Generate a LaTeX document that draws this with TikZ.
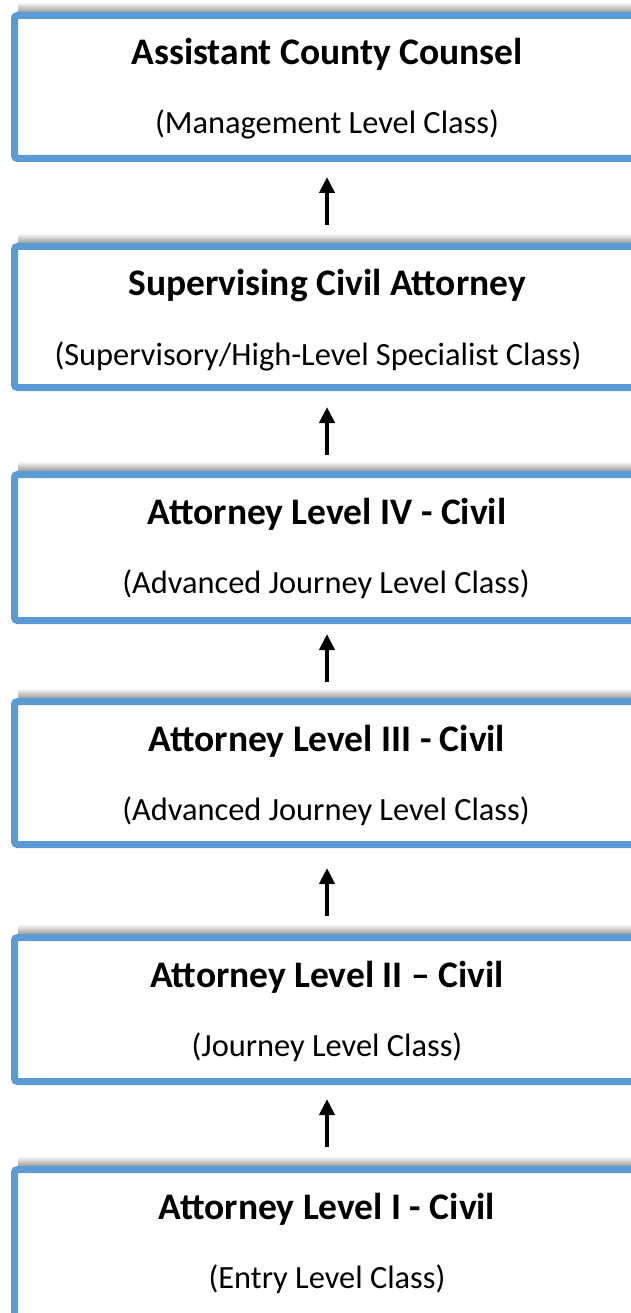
\documentclass[tikz,border=0pt]{standalone}
\usepackage{fontspec}
\setmainfont{Carlito}
\usetikzlibrary{arrows.meta}
\definecolor{accent}{HTML}{5B9BD5}
\tikzset{
  boxframe/.style={draw=accent, line width=7pt, fill=white, rounded corners=3pt,
    rectangle, inner sep=0pt, anchor=north west, minimum width=640pt},
  shadowband/.style={top color=white, bottom color=black!50},
  titletext/.style={font=\fontsize{37.5}{42}\selectfont\bfseries, anchor=base, inner sep=0pt},
  subtext/.style={font=\fontsize{32.4}{37}\selectfont, anchor=base, inner sep=0pt},
  uparrow/.style={line width=4pt, -{Triangle[width=15pt,length=16pt]}},
}
% #1 name, #2 outer top, #3 outer bottom, #4 title, #5 subtitle, #6 subtitle x
\newcommand\rungbox[6]{%
  \shade[shadowband] (18,#2-10) rectangle (640,#2+3);
  \pgfmathsetmacro\rungh{#3-#2-7}
  \node[boxframe, minimum height=\rungh pt] (b#1) at (11,#2) {};
  \node[titletext] (t#1) at (327,#2+53) {#4};
  \node[subtext] (s#1) at (#6,#2+122) {#5};
}
\begin{document}
\begin{tikzpicture}[x=1pt,y=-1pt]
\useasboundingbox (0,0) rectangle (631,1313);
\clip (0,0) rectangle (631,1313);
\fill[white] (0,0) rectangle (631,1313);
\rungbox{1}{12}{162}{Assistant County Counsel}{(Management Level Class)}{327}
\rungbox{2}{243}{391}{Supervising Civil Attorney}{(Supervisory/High-Level Specialist Class)}{318}
\rungbox{3}{471}{624}{Attorney Level IV - Civil}{(Advanced Journey Level Class)}{326}
\rungbox{4}{698}{848}{Attorney Level III - Civil}{(Advanced Journey Level Class)}{326}
\rungbox{5}{934}{1085}{Attorney Level II – Civil}{(Journey Level Class)}{327}
\rungbox{6}{1166}{1325}{Attorney Level I - Civil}{(Entry Level Class)}{327}
\coordinate (a1s) at (327,225); \coordinate (a1e) at (327,177);
\coordinate (a2s) at (327,455); \coordinate (a2e) at (327,407);
\coordinate (a3s) at (327,682); \coordinate (a3e) at (327,634);
\coordinate (a4s) at (327,916); \coordinate (a4e) at (327,868);
\coordinate (a5s) at (327,1147); \coordinate (a5e) at (327,1099);
\draw[uparrow] (a1s) -- (a1e);
\draw[uparrow] (a2s) -- (a2e);
\draw[uparrow] (a3s) -- (a3e);
\draw[uparrow] (a4s) -- (a4e);
\draw[uparrow] (a5s) -- (a5e);
\end{tikzpicture}
\end{document}
